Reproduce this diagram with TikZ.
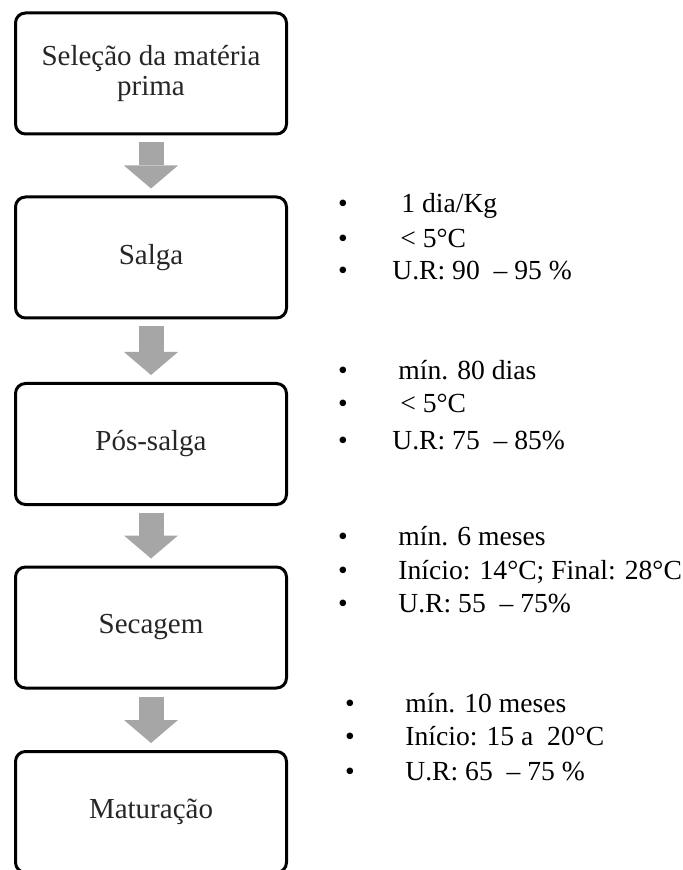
\documentclass[tikz,border=0pt]{standalone}
\usepackage{fontspec}
\setmainfont{Liberation Serif}
\usetikzlibrary{arrows.meta}

\begin{document}
\begin{tikzpicture}[x=0.5pt, y=-0.5pt,
        stagebox/.style={draw, line width=1.5pt, rounded corners=5pt,
            minimum width=135.5pt, minimum height=60.5pt, align=center,
            font=\fontsize{14.5}{15}\selectfont, text=black!85},
        flowarrow/.style={draw=black!35, line width=12.5pt,
            -{Triangle[width=27pt, length=11.5pt, line width=0pt]}},
        bulletdot/.style={anchor=base, inner sep=0pt, font=\fontsize{13.8}{15}\selectfont},
        note/.style={anchor=base west, inner sep=0pt, font=\fontsize{13.8}{15}\selectfont}]
        \useasboundingbox (0,0) rectangle (682,870);

        \node[stagebox] (selecao) at (151,73.5) {Seleção da matéria\\prima};
        \node[stagebox] (salga) at (151,257.5) {Salga};
        \node[stagebox] (possalga) at (151,444) {Pós-salga};
        \node[stagebox] (secagem) at (151,627.5) {Secagem};
        \node[stagebox] (maturacao) at (151,812) {Maturação};

        \draw[flowarrow] ([yshift=-3.5pt]selecao.south) -- ([yshift=3.5pt]salga.north);
        \draw[flowarrow] ([yshift=-3.5pt]salga.south) -- ([yshift=3.5pt]possalga.north);
        \draw[flowarrow] ([yshift=-3.5pt]possalga.south) -- ([yshift=3.5pt]secagem.north);
        \draw[flowarrow] ([yshift=-3.5pt]secagem.south) -- ([yshift=3.5pt]maturacao.north);

        \node[bulletdot] (sa1) at (343,213) {•};
        \node[bulletdot] (sa2) at (343,248) {•};
        \node[bulletdot] (sa3) at (343,280) {•};
        \node[note] (sa1t) at (401,213) {1 dia/Kg};
        \node[note] (sa2t) at (400,248) {< 5°C};
        \node[note] (sa3t) at (392,280) {U.R: 90 \ – 95 \%};

        \node[bulletdot] (ps1) at (343,380) {•};
        \node[bulletdot] (ps2) at (343,413) {•};
        \node[bulletdot] (ps3) at (343,449) {•};
        \node[note] (ps1t) at (398,380) {mín. 80 dias};
        \node[note] (ps2t) at (400,413) {< 5°C};
        \node[note] (ps3t) at (392,449) {U.R: 75 \ – 85\%};

        \node[bulletdot] (se1) at (343,545) {•};
        \node[bulletdot] (se2) at (343,579) {•};
        \node[bulletdot] (se3) at (343,612) {•};
        \node[note] (se1t) at (398,545) {mín. 6 meses};
        \node[note] (se2t) at (398,579) {Início: 14°C; Final: 28°C};
        \node[note] (se3t) at (398,612) {U.R: 55 \ – 75\%};

        \node[bulletdot] (ma1) at (350,712) {•};
        \node[bulletdot] (ma2) at (350,745) {•};
        \node[bulletdot] (ma3) at (350,780) {•};
        \node[note] (ma1t) at (405,712) {mín. 10 meses};
        \node[note] (ma2t) at (405,745) {Início: 15 a \ 20°C};
        \node[note] (ma3t) at (405,780) {U.R: 65 \ – 75 \%};
    \end{tikzpicture}
\end{document}
